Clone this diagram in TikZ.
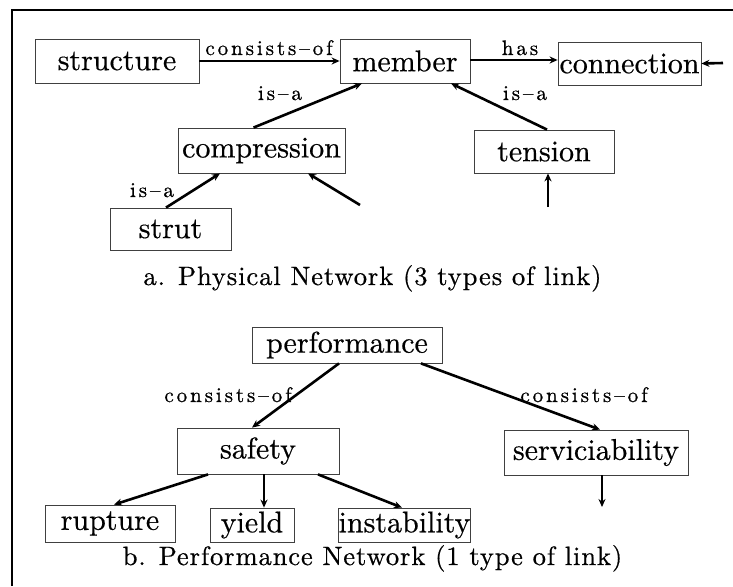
\documentclass[tikz,border=0pt]{standalone}
\usepackage{fontspec}
\usetikzlibrary{arrows.meta}
% one design size of Latin Modern at every size, so large text keeps its width
\newfontfamily\boxfam{lmroman10-regular.otf}[FakeBold=0.5]
\newfontfamily\lblfam{lmroman10-regular.otf}[LetterSpace=14,FakeBold=0.8]
\newfontfamily\capfam{lmroman10-regular.otf}[LetterSpace=3.5,FakeBold=0.6]
\newcommand\nodefont{\boxfam\fontsize{30}{36}\selectfont}
\newcommand\lblfont{\lblfam\fontsize{21}{25}\selectfont}
\newcommand\capfont{\capfam\fontsize{26.5}{32}\selectfont}
\begin{document}
\begin{tikzpicture}[x=1pt,y=-1pt,
  box/.style={draw=black!75, line width=0.8pt, inner sep=0pt, font=\nodefont},
  link/.style={line width=2.6pt, -{Stealth[length=8pt,width=7pt]}},
  lbl/.style={font=\lblfont, inner sep=0pt, anchor=base},
  captext/.style={font=\capfont, inner sep=0pt, anchor=base}]
\useasboundingbox (0,0) rectangle (733,586);
% frame
\draw[line width=1.8pt] (12,586) -- (12,10) -- (733,10);

% a. physical network
\node[box, minimum width=164pt, minimum height=44pt] (structure)   at (117,61)    {structure};
\node[box, minimum width=130pt, minimum height=44pt] (member)      at (405,61)    {member};
\node[box, minimum width=143pt, minimum height=43pt] (connection)  at (629.5,63.5) {connection};
\node[box, minimum width=167pt, minimum height=45pt] (compression) at (261.5,150.5) {compression};
\node[box, minimum width=140pt, minimum height=43pt] (tension)     at (544,151.5) {tension};
\node[box, minimum width=121pt, minimum height=42pt] (strut)       at (170.5,229) {strut};

\coordinate (inconn) at (723,63);
\coordinate (incomp) at (360,205);
\coordinate (inten)  at (548,207);

\draw[link] (structure.east) -- (member.west);
\draw[link] ([yshift=1pt]member.east) -- ([yshift=1pt]member.east -| connection.west);
\draw[link] (inconn) -- (connection.east);
\draw[link] ([xshift=-8pt]compression.north) -- ([xshift=-43pt]member.south);
\draw[link] ([xshift=3pt]tension.north) -- ([xshift=46pt]member.south);
\draw[link] ([xshift=-4.5pt]strut.north) -- ([xshift=-41.5pt]compression.south);
\draw[link] (incomp) -- ([xshift=46.5pt]compression.south);
\draw[link] (inten) -- ([xshift=4pt]tension.south);

\node[lbl] (l1) at (269,55)  {consists–of};
\node[lbl] (l2) at (520,55)  {has};
\node[lbl] (l3) at (280,100) {is–a};
\node[lbl] (l4) at (525,100) {is–a};
\node[lbl] (l5) at (152,197) {is–a};

\node[captext] (capa) at (372.5,285) {a. Physical Network (3 types of link)};

% b. performance network
\node[box, minimum width=190pt, minimum height=36pt] (performance) at (347,345)   {performance};
\node[box, minimum width=162pt, minimum height=46pt] (safety)      at (258,451)   {safety};
\node[box, minimum width=184pt, minimum height=45pt] (service)     at (596,452.5) {serviciability};
\node[box, minimum width=130pt, minimum height=37pt] (rupture)     at (110,523.5) {rupture};
\node[box, minimum width=84pt,  minimum height=34pt] (yield)       at (252,525)   {yield};
\node[box, minimum width=131pt, minimum height=34pt] (instability) at (404.5,525) {instability};

\coordinate (servout) at (602,507);

\draw[link] ([xshift=-8pt]performance.south) -- ([xshift=-6pt]safety.north);
\draw[link] ([xshift=74pt]performance.south) -- ([xshift=4pt]service.north);
\draw[link] ([xshift=-50pt]safety.south) -- ([xshift=4pt]rupture.north);
\draw[link] ([xshift=6pt]safety.south) -- ([xshift=12pt]yield.north);
\draw[link] ([xshift=60pt]safety.south) -- ([xshift=-2.5pt]instability.north);
\draw[link] ([xshift=6pt]service.south) -- (servout);

\node[lbl] (l6) at (228,402) {consists–of};
\node[lbl] (l7) at (584,402) {consists–of};

\node[captext] (capb) at (372.5,565) {b. Performance Network (1 type of link)};
\end{tikzpicture}
\end{document}
